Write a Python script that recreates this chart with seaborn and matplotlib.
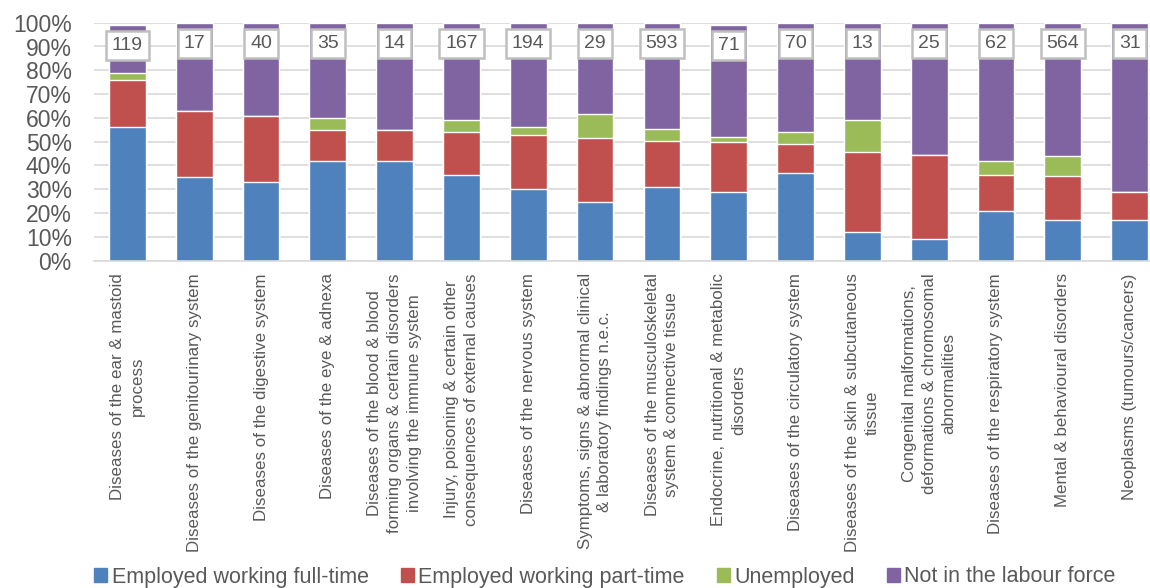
import matplotlib
matplotlib.use("Agg")
import matplotlib.pyplot as plt
from matplotlib.patches import Patch
from matplotlib.ticker import FuncFormatter
import numpy as np
import seaborn as sns

# Categories (x axis) and their case counts shown in the boxes
categories = [
    "Diseases of the ear & mastoid\nprocess",
    "Diseases of the genitourinary system",
    "Diseases of the digestive system",
    "Diseases of the eye & adnexa",
    "Diseases of the blood & blood\nforming organs & certain disorders\ninvolving the immune system",
    "Injury, poisoning & certain other\nconsequences of external causes",
    "Diseases of the nervous system",
    "Symptoms, signs & abnormal clinical\n& laboratory findings n.e.c.",
    "Diseases of the musculoskeletal\nsystem & connective tissue",
    "Endocrine, nutritional & metabolic\ndisorders",
    "Diseases of the circulatory system",
    "Diseases of the skin & subcutaneous\ntissue",
    "Congenital malformations,\ndeformations & chromosomal\nabnormalities",
    "Diseases of the respiratory system",
    "Mental & behavioural disorders",
    "Neoplasms (tumours/cancers)",
]
counts = [119, 17, 40, 35, 14, 167, 194, 29, 593, 71, 70, 13, 25, 62, 564, 31]

# Shares in percent
full_time = [56, 35, 33, 42, 42, 36, 30, 24.5, 31, 29, 37, 12, 9, 21, 17, 17]
part_time = [20, 28, 28, 13, 13, 18, 23, 27, 19.5, 21, 12, 33.5, 35.5, 15, 18.5, 12]
unemployed = [3, 0, 0, 5, 0, 5, 3, 10, 5, 2, 5, 13.5, 0, 6, 8.5, 0]
not_in_lf = [20, 37, 39, 40, 45, 41, 44, 38.5, 44.5, 47, 46, 41, 55.5, 58, 56, 71]

series = ["Employed working full-time", "Employed working part-time",
          "Unemployed", "Not in the labour force"]
colors = ["#4F81BD", "#C0504D", "#9BBB59", "#8064A2"]

sns.set_theme(style="white")
plt.rcParams["font.family"] = ["Liberation Sans", "DejaVu Sans"]
text_col = "#595959"

fig = plt.figure(figsize=(11.5, 5.88), dpi=100)
ax = fig.add_axes([94 / 1150, (588 - 260.7) / 588, (1163 - 94) / 1150, 238 / 588])

# stacked bars: draw cumulative totals from the top layer down
layers = np.array([full_time, part_time, unemployed, not_in_lf])
cum = np.cumsum(layers, axis=0)
for i in range(3, -1, -1):
    sns.barplot(x=categories, y=cum[i], order=categories, color=colors[i],
                saturation=1, width=0.55, ax=ax, zorder=2)

# count boxes
for i, n in enumerate(counts):
    ax.text(i, cum[3][i] - 8.7, str(n), ha="center", va="center",
            fontsize=14, color=text_col, zorder=4,
            bbox=dict(boxstyle="square,pad=0.3", fc="white", ec="#BFBFBF", lw=1.8))

ax.set_ylim(0, 100)
ax.set_xlim(-0.5, 15.5)
ax.set_yticks(np.arange(0, 101, 10))
ax.yaxis.set_major_formatter(FuncFormatter(lambda v, p: f"{int(v)}%"))
ax.yaxis.grid(True, color="#D9D9D9", lw=1.2, zorder=0)
ax.set_axisbelow(True)
for s in ["top", "right", "left"]:
    ax.spines[s].set_visible(False)
ax.spines["bottom"].set_color("#D9D9D9")
ax.spines["bottom"].set_linewidth(1.2)
ax.tick_params(axis="y", length=0, pad=16, labelsize=16.5, labelcolor=text_col)
ax.tick_params(axis="x", length=0, pad=9, labelsize=12.2, labelcolor=text_col,
               labelrotation=90)
for lbl in ax.get_xticklabels():
    lbl.set_linespacing(1.4)
ax.set_xlabel("")
ax.set_ylabel("")

handles = [Patch(color=c, label=s) for c, s in zip(colors, series)]
fig.legend(handles=handles, loc="center", bbox_to_anchor=(0.526, 1 - 577 / 588),
           ncol=4, frameon=False, fontsize=15.5, labelcolor=text_col,
           handlelength=0.6, handleheight=0.6, handletextpad=0.2,
           columnspacing=1.5, borderaxespad=0)

fig.savefig("out.png", dpi=100)
